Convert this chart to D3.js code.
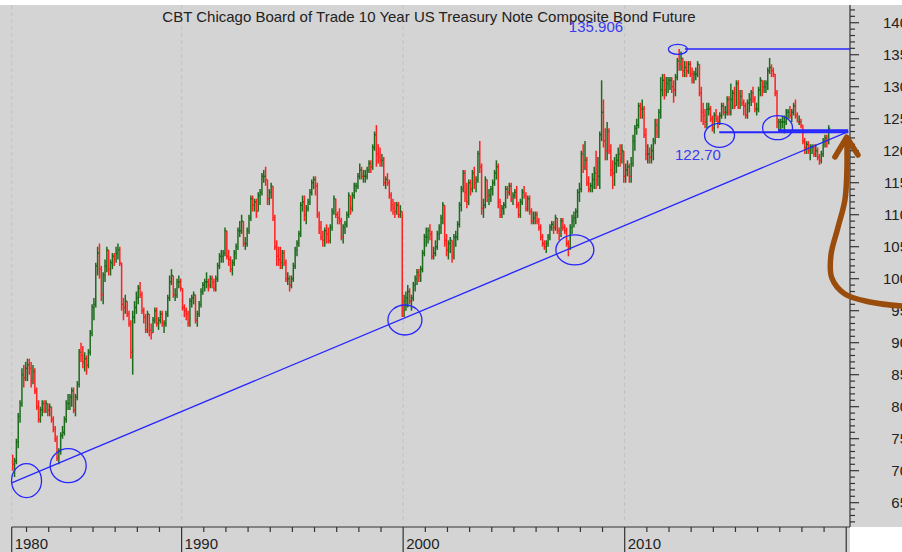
<!DOCTYPE html>
<html>
<head>
<meta charset="utf-8">
<script src="https://cdn.jsdelivr.net/npm/d3@7"></script>
<style>
  body { margin: 0; background: #fff; }
  text { font-family: "Liberation Sans", Arial, sans-serif; }
</style>
</head>
<body>
<div id="chart"></div>
<script>
var WD = 902, HT = 552

// monthly bars, first bar = May 1982
var startYear = 1982, startMonth = 4

var high = [
  72.5,72,75,79,81,86,86.5,87,
  87.5,87.5,87,86.5,86,83,81,80,81,81,81,80.5,
  80.5,80,78.5,77,75.5,73.5,76,77,78.5,81,82,82,
  83,83,82,84,89,90,89.5,88.5,88,89,92,96,
  97,102.5,105,105.5,102,101,103,105,104.5,103,104,104,
  105,105.5,105,102.5,97,97.5,96.5,95,93.5,95,96.5,98,
  99,99.5,98,95.5,94.5,95,94.5,93,94,95.5,95.5,94,
  95,95,93.5,95,97.5,100.5,101.5,100.5,98.5,100,100.5,100,
  98.5,96,95.5,95,97,97.5,98,97.5,95,96.5,98.5,99.5,
  100,101,100,100.5,100.5,100,100.5,102.5,104,104.5,104.5,108,
  107.5,104.5,103.5,103,104.5,105.5,108,109,110,109,106.5,108,
  110,113,113,112.5,112.5,113.5,114,116.5,117,117.5,115.5,114,
  115,114.5,110,106,105,105,104.5,104.5,103,101,100.5,100.5,
  102.5,105,106,107.5,112,113,113,111.5,112.5,114,115.5,116,
  116,115,110.5,109,107.5,108,108.5,108,108.5,111,113,112.5,
  110.5,111,109.5,108.5,109,110.5,113.5,113,113.5,115,115,116.5,
  118,117.5,117,117,117.5,118.5,118.5,121,123,124,121,120.5,
  119.5,119,116,116.5,115.5,113.5,112.5,112,112,112,111.5,110.5,
  97.5,98,99,98.5,97.5,99.5,100.5,101.5,101.5,102,104.5,107,
  108,108,108.5,107.5,105,106,107.5,108.5,110,112,111.5,107,
  106,106.5,106,107,107.5,109,112,114.5,117,117,115,115.5,
  115.5,117,117.5,116,120,121.5,118,112.5,116,115.5,114,114.5,
  115.5,117,118.5,118,112.5,111.5,112,114.5,114.5,115,115,113.5,
  114,114.5,112,112.5,114,114.5,113.5,113,113,111,110.5,110.5,
  110.5,109.5,108.5,107,106,106,107,108.5,109,109,110,109.5,
  108,109.5,109.5,108.5,108,106,108.5,110,110.5,111,114,115,
  120,121,121.5,119,116,115,116.5,117.5,120,119,123,131,
  128,123.5,124.5,123.5,121,118.5,119,119.5,120.5,121,121,120,
  118,118.5,118,119,122.5,124,125,127.5,127.5,128,127,123.5,
  121,120.5,121,122,125,125,126.5,131.5,132,132,131.5,131.5,
  131.5,131.5,131,132,134.5,135.9,135.5,134.5,134,134,134,134,
  133,132.5,133,134,133.5,130,127.5,126.5,127.5,127.5,127,125.5,
  126,126.5,125.5,126,127.5,127.5,127,128.5,128.5,130.5,129.5,130,
  131,131,129.5,129.5,128,127.5,128,129,129.5,130,128.5,127.5,
  130,131.5,131,131,131,133,134.5,133.5,133,132,129.5,125,
  125,125.5,125.5,126.5,126.5,127,126.5,127.5,128,126,125.5,125,
  124,122,121.5,121.5,121,121,121,121,120.5,119.5,120,122,
  122.5,122.5,124
]

var low = [
  70,69,71,73.5,77.5,80,83,84,
  84,85,83,83.5,82,79.5,77.5,77.5,78.5,79,79,78.5,
  78.5,77.5,76,74.5,71.5,71,72.5,75,75.5,77.5,79.5,79.5,
  80,79,78.5,81,83,87,86,85.5,85,86,88,91,
  93.5,95.5,100.5,100,96.5,96,99.5,101,100.5,100.5,101.5,102,
  102.5,103,102,95,93.5,94.5,94,92.5,87.5,85,93,94.5,
  96,97,94.5,93,91.5,91.5,91,90.5,91.5,93,92.5,92,
  93,92.5,91.5,92.5,94,96.5,99,97,96.5,97,98.5,98,
  95,94,93.5,92.5,92.5,95.5,96,93,92.5,94,95.5,97.5,
  98,98.5,98,98.5,98.5,98,98,99.5,101.5,102.5,102.5,103.5,
  103,102,101,100.5,102,103,104.5,106.5,107,105,104.5,105,
  107,109,110.5,110.5,109.5,110.5,111.5,113,115,114.5,111.5,111.5,
  112.5,109,104.5,102,102,101.5,101.5,102,99.5,99,98,98.5,
  99.5,101.5,103.5,105,106.5,110.5,109,108.5,110.5,111.5,113,114,
  113,109.5,107,106,105,105,105.5,105.5,105.5,107.5,110,109.5,
  108.5,108.5,106,105.5,107,108,109.5,110,110.5,112.5,113.5,114,
  115.5,115.5,115,115,115.5,116.5,116.5,117,120,117.5,118,117.5,
  117.5,114.5,114,114.5,112.5,110.5,110,109.5,110,109.5,109.5,94,
  94,95,95.5,96,95,96.5,98,99,99.5,99.5,101,103.5,
  105,105.5,106,103,103,103.5,104.5,106,107,108.5,105,103.5,
  103,104,102.5,103,105,106,108,110.5,113.5,112,111,111.5,
  113,113.5,114,113.5,115,116.5,110,109.5,111,112,111.5,112,
  113,114.5,115.5,111,109.5,109.5,110,111,112.5,113,112,111.5,
  112.5,111,109.5,109.5,111.5,112.5,110.5,110.5,110,108.5,108.5,108.5,
  108.5,107.5,106,105,104.5,104,105,106,107.5,107,107.5,107,
  106,106.5,107.5,107,105,103.5,104.5,107,108,108.5,109.5,112,
  113.5,116.5,117,114.5,113.5,113.5,113.5,114,114,114.5,114,121.5,
  120.5,118.5,118.5,119.5,116,114,114.5,116.5,117.5,117.5,118,115,
  115,116,115,115,117.5,120,122.5,123.5,125,125,122,118.5,
  118,118,118,118.5,121,122,122,125,128.5,128,128.5,129,
  129.5,129,127.5,128.5,131,132.5,132.5,131.5,131.5,131.5,132,131.5,
  130.5,130.5,131,131.5,128.5,124.5,124,123.5,123.5,125.5,124.5,123,
  122.7,124.5,123.5,124,125,125.5,125,125.5,125.5,125.5,126.5,126.5,
  127,126.5,126.5,127,125.5,125,125,126,127,127.5,126,125.5,
  126,128.5,128.5,129,129,129.5,132,131.5,131.5,128.5,123.5,123,
  123,123.5,122.7,124,125,125,124.5,125.5,125,124.5,124,123.5,
  121,119.5,119.5,119.5,118.5,119.5,119,119,118.5,117.8,118,119,
  120.5,120.5,121
]

var close = [
  71,71.5,74.5,78.5,80.5,85,84.5,86,
  86.5,86,84,85.5,82.5,80,78,79.5,80.5,79.5,80.5,79.5,
  80,78,76.5,75,72,73,75.5,76,78,80.5,80.5,81.5,
  82.5,79.5,81.5,83.5,88.5,88,87,87.5,86.5,88.5,91.5,95.5,
  96,102,104,101.5,97.5,100.5,102,104.5,101.5,102.5,103.5,103,
  104,104.5,102.5,96,95.5,96.5,94.5,93,88.5,94,95.5,97,
  98.5,97.5,95,94,92,94.5,92,91.5,93.5,95,93,93.5,
  94.5,93,93,94.5,97,99.5,100.5,97.5,97.5,99.5,99.5,98.5,
  95.5,95,94.5,93,96.5,97,97.5,93.5,94.5,96,98,99,
  99.5,99.5,99,100,99.5,98.5,100,102,103.5,103.5,104,107.5,
  103.5,103,101.5,102.5,104,105,107.5,107.5,109,105.5,105.5,107.5,
  109.5,112.5,111.5,112,110.5,113,113.5,116,116,115.5,112.5,113.5,
  114.5,109.5,105,103.5,103,102.5,104,102.5,100,100,99,100,
  102,104.5,105.5,107,111.5,112,110,111,112,113.5,115,115.5,
  114.5,110,108,106.5,106,107.5,107,106,108,110.5,112.5,110,
  109.5,109,106.5,108,108.5,110,113,111,113,114.5,114.5,116,
  117,116,116,116,117,118,117.5,120.5,122.5,119.5,119,118.5,
  118.5,115,115.5,115,113,111.5,111,110.5,111.5,110,110.5,95,
  96.5,97,98,96.5,97,99,100,101,100.5,101.5,104,106.5,
  106.5,107.5,107,103.5,104,105,107,108,109.5,111.5,106,104.5,
  105.5,106,103.5,106.5,106.5,108.5,111.5,114,116.5,113.5,112,115,
  114,116.5,115,115.5,119.5,117.5,111,111.5,115.5,113,113,114,
  115,116.5,117.5,112,110,111,111.5,114,113.5,114.5,112.5,113,
  113.5,111.5,110,112,113.5,113,111,112.5,110.5,109,109.5,110,
  109,108,106.5,105.5,105,105.5,106.5,108,108.5,108,109.5,107.5,
  107,109,108,107.5,105.5,105,108,109,109.5,110.5,113.5,114,
  119.5,117.5,118.5,115,114,114.5,115.5,116.5,115.5,116,122.5,126,
  121.5,120,123,120,117,116.5,118,118.5,119.5,118.5,120,116,
  117,117.5,116,118,121.5,123.5,124,127,126.5,126.5,122.5,119.5,
  119.5,119,120,121.5,124,123,126,129.5,131,129.5,130.5,131,
  131,130,129.5,131.5,134,133.5,134.5,132.5,133,132.5,133.5,132,
  131,132,132,133.5,129,126,125.5,124.5,126.5,126.5,125,123.5,
  125.5,125,124.5,125.5,127,126,126,128,126,128,129,127,
  130.5,127.5,128.5,127.5,127,125.5,127.5,128,129,128,126.5,126.5,
  129.5,131,130,130,130.5,132.5,133,132.5,132,129,124.5,124.5,
  124.5,124.5,124.5,126,126,125.5,126,127,125.5,124.5,124.5,124,
  121.5,120.5,121,120,120.5,120.5,119.5,120,119,118.5,119.5,121.5,
  122,121.5,123.5
]

// axes
var xDomain = [1982.33, 2020.17]
var yDomain = [61.2, 142.77]
var decadeTicks = [1990, 2000, 2010]
var firstLabel = "1980"

// annotations (decimal year, price)
var trendLine = [[1982.33, 68.1], [2020.09, 122.97]]
var peakLevel = { value: 135.906, from: 2012.72, to: 2020.17 }
var supportLevels = [
  { value: 122.9, from: 2014.27, to: 2020.09, w: 2 },
  { value: 123.15, from: 2016.92, to: 2020.09, w: 2.5 }
]
var rings = [
  [1983.0, 68.44, 15, 17], [1984.88, 70.78, 18, 17], [2000.08, 93.55, 17, 15],
  [2007.75, 104.5, 19, 15], [2014.28, 122.4, 15, 12], [2016.9, 123.6, 15, 12],
  [2012.4, 135.85, 9.5, 5]
]
var labels = [
  { text: "135.906", t: 2007.48, v: 138.55 },
  { text: "122.70", t: 2012.27, v: 118.55 }
]
var arrowPath = [
  [2022.51, 95.73], [2021.07, 96.36], [2019.94, 97.61], [2019.35, 100.11],
  [2019.31, 103.7], [2019.62, 107.92], [2019.94, 112.3], [2020.03, 116.95],
  [2020.03, 121.67]
]
var arrowHead = [[2019.49, 119.02], [2020.02, 122.14], [2020.53, 119.33]]

var title = "CBT Chicago Board of Trade 10 Year US Treasury Note Composite Bond Future"

var svg = d3.select("#chart").append("svg")
  .attr("width", WD).attr("height", HT)

var x = d3.scaleLinear().domain(xDomain).range([11.7, 850])
var y = d3.scaleLinear().domain(yDomain).range([527, 5])

// backgrounds
svg.append("rect").attr("x", 0).attr("y", 5).attr("width", WD).attr("height", 522).attr("fill", "#d4d4d4")
svg.append("rect").attr("x", 0).attr("y", 527).attr("width", 850).attr("height", 25).attr("fill", "#d4d4d4")

// dashed decade grid
svg.selectAll(".grid")
  .data([xDomain[0]].concat(decadeTicks))
  .enter().append("line")
    .attr("x1", d => x(d)).attr("x2", d => x(d))
    .attr("y1", 5).attr("y2", 523)
    .attr("stroke", "#c2c2c2")
    .attr("stroke-dasharray", "4,3")

svg.append("text")
  .attr("x", 429).attr("y", 22)
  .attr("text-anchor", "middle")
  .attr("font-size", "15px")
  .attr("fill", "#222")
  .text(title)

// bars
var bars = high.map(function(h, i) {
  var m = startMonth + i
  return {
    t: startYear + (m + 0.5) / 12,
    hi: h, lo: low[i], cl: close[i],
    op: i ? close[i - 1] : high[0]
  }
})

var g = svg.append("g")
g.selectAll(".bar")
  .data(bars)
  .enter().append("line")
    .attr("x1", d => x(d.t)).attr("x2", d => x(d.t))
    .attr("y1", d => y(d.hi)).attr("y2", d => y(d.lo))
    .attr("stroke", d => d.cl >= d.op ? "#1d6b1d" : "#ff2020")
    .attr("stroke-width", 1.5)
g.selectAll(".cl")
  .data(bars)
  .enter().append("line")
    .attr("x1", d => x(d.t)).attr("x2", d => x(d.t) + 1.5)
    .attr("y1", d => y(d.cl)).attr("y2", d => y(d.cl))
    .attr("stroke", d => d.cl >= d.op ? "#1d6b1d" : "#ff2020")
    .attr("stroke-width", 1.5)

// annotations
var blue = "#2626ff"
var line = d3.line().x(d => x(d[0])).y(d => y(d[1]))

svg.append("path").attr("d", line(trendLine))
  .attr("stroke", blue).attr("stroke-width", 1.3).attr("fill", "none")

svg.append("line")
  .attr("x1", x(peakLevel.from)).attr("x2", x(peakLevel.to))
  .attr("y1", y(peakLevel.value)).attr("y2", y(peakLevel.value))
  .attr("stroke", blue).attr("stroke-width", 1.5)

svg.selectAll(".sup")
  .data(supportLevels)
  .enter().append("line")
    .attr("x1", d => x(d.from)).attr("x2", d => x(d.to))
    .attr("y1", d => y(d.value)).attr("y2", d => y(d.value))
    .attr("stroke", blue).attr("stroke-width", d => d.w)

svg.selectAll(".ring")
  .data(rings)
  .enter().append("ellipse")
    .attr("cx", d => x(d[0])).attr("cy", d => y(d[1]))
    .attr("rx", d => d[2]).attr("ry", d => d[3])
    .attr("fill", "none").attr("stroke", blue).attr("stroke-width", 1.3)

svg.selectAll(".lbl")
  .data(labels)
  .enter().append("text")
    .attr("x", d => x(d.t)).attr("y", d => y(d.v))
    .attr("font-size", "15px")
    .attr("fill", "#3a3af0")
    .text(d => d.text)

// y axis (right)
svg.append("line").attr("x1", 850).attr("x2", 850).attr("y1", 5).attr("y2", 527)
  .attr("stroke", "#333").attr("stroke-width", 1.2)
var minorY = d3.range(62, 143, 1)
svg.selectAll(".ytick")
  .data(minorY)
  .enter().append("line")
    .attr("x1", 850).attr("x2", d => d % 5 === 0 ? 859 : 855)
    .attr("y1", d => y(d)).attr("y2", d => y(d))
    .attr("stroke", "#333").attr("stroke-width", 1.2)
svg.selectAll(".ylab")
  .data(minorY.filter(d => d % 5 === 0))
  .enter().append("text")
    .attr("x", 908).attr("y", d => y(d)).attr("dy", "0.35em")
    .attr("text-anchor", "end")
    .attr("font-size", "15px")
    .attr("fill", "#222")
    .text(d => d)

// x axis (bottom)
svg.append("line").attr("x1", x(xDomain[0])).attr("x2", 850).attr("y1", 527).attr("y2", 527)
  .attr("stroke", "#333").attr("stroke-width", 1.2)
svg.selectAll(".xtick")
  .data(d3.range(1983, 2021))
  .enter().append("line")
    .attr("x1", d => x(d)).attr("x2", d => x(d))
    .attr("y1", 527).attr("y2", d => d % 10 === 0 ? 552 : 532)
    .attr("stroke", "#333").attr("stroke-width", 1.2)
svg.append("line").attr("x1", x(xDomain[0])).attr("x2", x(xDomain[0]))
  .attr("y1", 527).attr("y2", 552).attr("stroke", "#333").attr("stroke-width", 1.2)

var xl = [{ t: xDomain[0], s: firstLabel }].concat(decadeTicks.map(d => ({ t: d, s: String(d) })))
svg.selectAll(".xlab")
  .data(xl)
  .enter().append("text")
    .attr("x", d => x(d.t) + 3).attr("y", 549)
    .attr("font-size", "15px")
    .attr("fill", "#222")
    .text(d => d.s)

// brown hand-drawn arrow
var curve = d3.line().x(d => x(d[0])).y(d => y(d[1])).curve(d3.curveCatmullRom)
svg.append("path").attr("d", curve(arrowPath))
  .attr("stroke", "#9a4c0c").attr("stroke-width", 5.5).attr("fill", "none")
  .attr("stroke-linecap", "round")
svg.append("path").attr("d", line(arrowHead))
  .attr("stroke", "#9a4c0c").attr("stroke-width", 5.5).attr("fill", "none")
  .attr("stroke-linecap", "round").attr("stroke-linejoin", "round")
</script>
</body>
</html>
